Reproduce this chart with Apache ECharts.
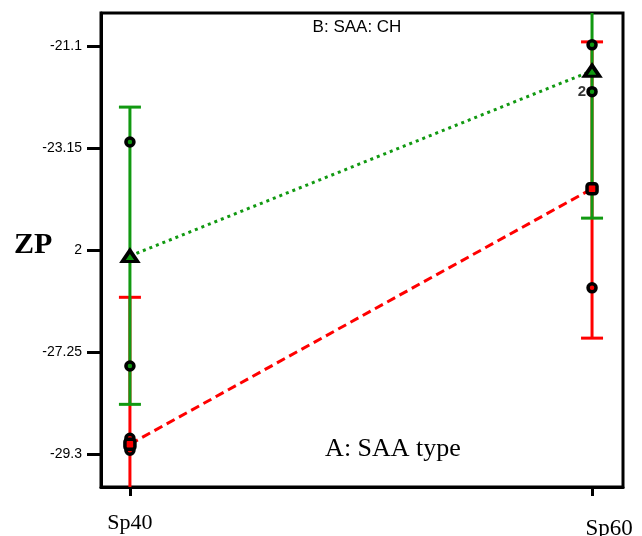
<!DOCTYPE html>
<html>
<head>
<meta charset="utf-8">
<script src="https://cdn.jsdelivr.net/npm/echarts@6/dist/echarts.min.js"></script>
<style>
  html,body{margin:0;padding:0;background:#fff;}
  #main{width:642px;height:536px;}
</style>
</head>
<body>
<div id="main"></div>
<script>
// factor levels (A: SAA type)
const levels = ['Sp40', 'Sp60'];
// y tick values and the labels printed beside them
const yTicks = [-21.1, -23.15, -25.2, -27.25, -29.3];
const yTickLabels = ['-21.1', '-23.15', '2', '-27.25', '-29.3'];
// green: means and LSD bars
const greenMean = [-25.32, -21.60];
const greenLow = [-28.30, -24.56];
const greenHigh = [-22.33, -18.64];
// red: means and LSD bars
const redMean = [-29.10, -23.97];
const redLow = [-32.06, -26.97];
const redHigh = [-26.15, -21.02];
// design points [level index, value]
const greenPoints = [[0, -23.03], [0, -27.53], [1, -21.08], [1, -22.02]];
const redPoints = [[0, -28.98], [0, -29.22], [1, -25.96]];
// repeated point count label
const countLabel = [[1, -22.02, '2']];

let chart = echarts.init(document.getElementById('main'), null, {renderer: 'canvas'});

function errorBar(color){
    return function(params, api){
        let x = api.value(0);
        let lo = api.coord([x, api.value(1)]);
        let hi = api.coord([x, api.value(2)]);
        let w = 11;
        let style = {stroke: color, lineWidth: 3};
        return {
            type: 'group',
            children: [
                {type: 'line', shape: {x1: lo[0], y1: lo[1], x2: hi[0], y2: hi[1]}, style: style},
                {type: 'line', shape: {x1: lo[0]-w, y1: lo[1], x2: lo[0]+w, y2: lo[1]}, style: style},
                {type: 'line', shape: {x1: hi[0]-w, y1: hi[1], x2: hi[0]+w, y2: hi[1]}, style: style}
            ]
        };
    };
}

let redBars = levels.map((l, i) => [i, redLow[i], redHigh[i]]);
let greenBars = levels.map((l, i) => [i, greenLow[i], greenHigh[i]]);
let marker = (color) => ({color: color, borderColor: '#000', borderWidth: 3.5, opacity: 1});

let option = {
    animation: false,
    grid: {
        left: 101, top: 13, right: 19, bottom: 49, show: true, borderColor: '#000', borderWidth: 3,
        containLabel: false, outerBoundsMode: 'none'
    },
    xAxis: {
        type: 'value', min: -0.0626, max: 1.067,
        splitLine: {show: false},
        axisLine: {show: true, onZero: false, lineStyle: {color: '#000', width: 3}},
        axisTick: {show: true, customValues: [0, 1], length: 9, lineStyle: {color: '#000', width: 3}},
        axisLabel: {
            customValues: [0, 1], margin: 25,
            fontFamily: 'Liberation Serif', fontSize: 22, color: '#000',
            formatter: v => Math.round(v) == 1 ? '{b|' + levels[1] + '}' : levels[0],
            rich: {
                b: {fontFamily: 'Liberation Serif', fontSize: 23, color: '#000', padding: [5, 0, 0, 34]}
            }
        }
    },
    yAxis: {
        type: 'value', min: -29.96, max: -20.44,
        splitLine: {show: false},
        axisLine: {show: true, onZero: false, lineStyle: {color: '#000', width: 3}},
        axisTick: {show: true, customValues: yTicks, length: 14, lineStyle: {color: '#000', width: 3}},
        axisLabel: {
            customValues: yTicks, margin: 19,
            fontFamily: 'Liberation Sans', fontSize: 14, color: '#000',
            formatter: v => {
                let k = yTicks.findIndex(t => Math.abs(t - v) < 1e-6);
                return k >= 0 ? yTickLabels[k] : '';
            }
        }
    },
    graphic: [
        {type: 'text', x: 357, y: 27, style: {text: 'B: SAA: CH', font: '17px "Liberation Sans"', fill: '#000', align: 'center', verticalAlign: 'middle'}},
        {type: 'text', x: 393, y: 449, style: {text: 'A: SAA type', font: '26px "Liberation Serif"', fill: '#000', align: 'center', verticalAlign: 'middle'}},
        {type: 'text', x: 14, y: 245, style: {text: 'ZP', font: 'bold 30px "Liberation Serif"', fill: '#000', verticalAlign: 'middle'}}
    ],
    series: [
        {type: 'custom', clip: true, renderItem: errorBar('#ff0000'), data: redBars, z: 2},
        {type: 'custom', clip: true, renderItem: errorBar('#119911'), data: greenBars, z: 3},
        {
            type: 'line', data: levels.map((l, i) => [i, redMean[i]]), symbol: 'none', z: 4,
            lineStyle: {color: '#ff0000', width: 3, type: [9, 5]}
        },
        {
            type: 'line', data: levels.map((l, i) => [i, greenMean[i]]), symbol: 'none', z: 4,
            lineStyle: {color: '#119911', width: 3, type: [3, 4]}
        },
        {type: 'scatter', data: redPoints, symbol: 'circle', symbolSize: 8, z: 5, itemStyle: marker('#ff0000')},
        {type: 'scatter', data: greenPoints, symbol: 'circle', symbolSize: 8, z: 5, itemStyle: marker('#119911')},
        {
            type: 'scatter', data: levels.map((l, i) => [i, redMean[i]]), symbol: 'roundRect', symbolSize: 10, z: 6,
            itemStyle: marker('#ff0000')
        },
        {
            type: 'scatter', data: levels.map((l, i) => [i, greenMean[i]]), symbol: 'triangle', symbolSize: [15, 11], z: 6,
            itemStyle: marker('#119911')
        },
        {
            type: 'scatter', data: countLabel, symbolSize: 0, z: 7,
            label: {
                show: true, position: 'left', distance: 6,
                formatter: p => p.data[2],
                fontFamily: 'Liberation Sans', fontWeight: 'bold', fontSize: 15, color: '#000'
            }
        }
    ]
};
chart.setOption(option);
</script>
</body>
</html>
